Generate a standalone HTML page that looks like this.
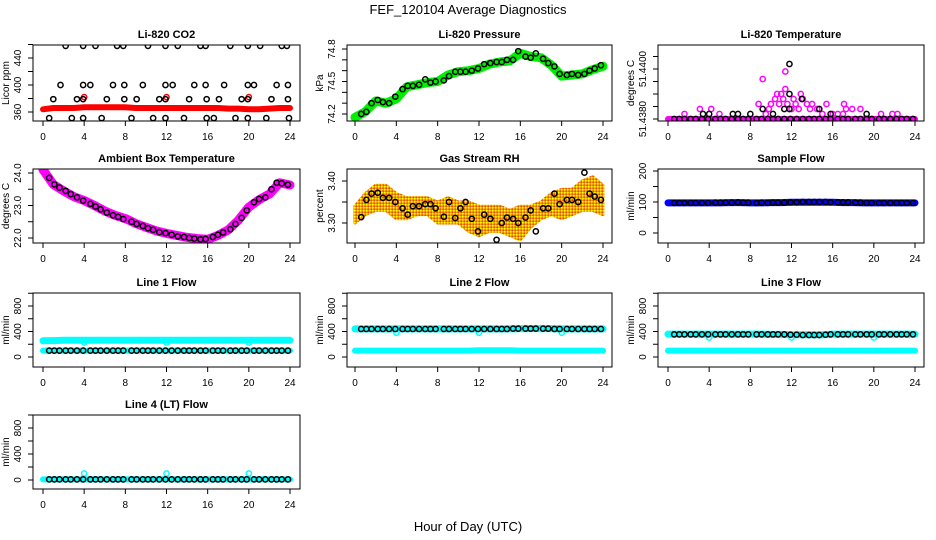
<!DOCTYPE html>
<html><head><meta charset="utf-8"><style>
html,body{margin:0;padding:0;background:#fff;}
svg{display:block;font-family:"Liberation Sans",Arial,sans-serif;}
</style></head><body>
<svg id="chart" width="936" height="540" viewBox="0 0 936 540" xmlns="http://www.w3.org/2000/svg">
<text x="468" y="14" text-anchor="middle" font-size="13">FEF_120104  Average Diagnostics</text>
<text x="468" y="531" text-anchor="middle" font-size="13">Hour of Day (UTC)</text>
</svg>
<script>
// ---- data ----
const xTicks=[0,4,8,12,16,20,24];
const hours=[0.6,1.1,1.6,2.2,2.7,3.3,3.9,4.6,5.1,5.6,6.2,6.8,7.3,7.8,8.6,9.1,9.7,10.2,10.7,11.3,11.9,12.5,13.1,13.7,14.2,14.7,15.3,15.8,16.5,17.0,17.5,18.2,18.7,19.3,19.8,20.5,21.0,21.6,22.2,22.7,23.2,23.8];
const bandHours=[0,1,2,3,4,5,6,7,8,9,10,11,12,13,14,15,16,17,18,19,20,21,22,23,24];
// CO2
const co2Band=[364,366,366,366,367,367,367,367,367,366,366,366,366,366,366,366,366,366,365,365,364,364,365,366,366];
const co2HighX=[2.2,3.9,5.1,7.2,7.8,10.2,11.9,13.1,15.3,15.8,18.2,19.9,21.1,23.2,23.7];
const co2HighY=[458,458,458,458,458,458,458,458,458,458,458,458,458,458,458];
const co2MidX=[1.7,3.9,4.6,6.8,7.9,9.7,11.9,12.6,14.7,15.8,17.6,19.9,20.5,22.7,23.8];
const co2MidY=[400,400,400,400,400,400,400,400,400,400,400,400,400,400,400];
const co2LowX=[1.0,3.3,3.9,6.2,7.9,9.1,11.3,11.9,14.2,15.9,17.1,19.3,19.9,22.2,23.8];
const co2LowY=[379,379,379,379,379,379,379,379,379,379,379,379,379,379,379];
const co2BotX=[0.6,2.8,3.9,5.7,8.6,10.7,11.9,13.7,15.9,16.6,18.7,19.9,21.7,23.9];
const co2BotY=[351,351,351,351,351,351,351,351,351,351,351,351,351,351];
const co2RedX=[4,12,20];
const co2RedY=[382,382,382];
// Pressure
const presBand=[74.17,74.22,74.32,74.30,74.34,74.45,74.47,74.49,74.50,74.56,74.59,74.60,74.62,74.66,74.68,74.69,74.76,74.73,74.72,74.65,74.55,74.56,74.57,74.61,74.64];
const presVals=[74.20,74.22,74.30,74.33,74.31,74.30,74.36,74.43,74.46,74.46,74.47,74.52,74.49,74.50,74.51,74.55,74.59,74.59,74.59,74.60,74.62,74.66,74.67,74.68,74.68,74.70,74.70,74.78,74.73,74.72,74.76,74.71,74.67,74.64,74.57,74.56,74.57,74.56,74.57,74.60,74.62,74.65];
// Li-820 temperature
const tempBase=51.4380;
const tempBlkX=[3.4,4.0,6.3,6.8,8.0,9.2,10.2,11.3,11.8,11.8,11.8,13.0,14.7,15.8,19.3];
const tempBlkY=[51.4382,51.4382,51.4382,51.4382,51.4382,51.4384,51.4382,51.4384,51.4384,51.4390,51.4402,51.4388,51.4384,51.4382,51.4382];
const tempMagX=[1.6,3.1,4.2,5.0,8.8,9.2,9.8,10.4,10.6,11.0,11.2,11.4,11.4,11.6,12.4,12.9,13.1,13.5,14.0,14.5,15.4,16.5,17.1,17.3,17.9,18.7,20.7,21.8,22.3,9.5,10.0,10.8,12.0,12.2,12.7,13.8,15.0,16.0,17.0];
const tempMagY=[51.4382,51.4384,51.4384,51.4382,51.4386,51.4396,51.4384,51.4388,51.4390,51.4390,51.4388,51.4399,51.4392,51.4386,51.4386,51.4390,51.4388,51.4386,51.4386,51.4384,51.4386,51.4382,51.4386,51.4384,51.4384,51.4384,51.4382,51.4382,51.4382,51.4382,51.4386,51.4386,51.4384,51.4388,51.4384,51.4384,51.4382,51.4382,51.4382];
// Ambient box temperature
const ambBand=[24.10,23.65,23.45,23.27,23.15,23.00,22.83,22.70,22.60,22.45,22.33,22.22,22.14,22.08,22.02,21.98,21.96,22.08,22.25,22.55,22.95,23.18,23.35,23.70,23.63];
const ambVals=[23.85,23.65,23.55,23.45,23.35,23.25,23.15,23.05,22.97,22.88,22.78,22.70,22.65,22.58,22.50,22.43,22.37,22.30,22.25,22.18,22.15,22.10,22.05,22.03,22.00,21.98,21.96,21.97,22.03,22.10,22.17,22.27,22.43,22.62,22.85,23.10,23.20,23.25,23.50,23.70,23.68,23.64];
// Gas stream RH
const rhUpper=[3.34,3.37,3.39,3.39,3.37,3.36,3.36,3.36,3.35,3.36,3.35,3.35,3.34,3.34,3.34,3.33,3.34,3.34,3.35,3.37,3.38,3.38,3.40,3.41,3.39];
const rhLower=[3.30,3.32,3.33,3.33,3.31,3.31,3.32,3.32,3.30,3.30,3.30,3.28,3.27,3.28,3.28,3.27,3.26,3.29,3.31,3.32,3.31,3.32,3.33,3.33,3.32];
const rhVals=[3.314,3.355,3.370,3.372,3.360,3.360,3.350,3.335,3.320,3.340,3.340,3.345,3.345,3.335,3.315,3.350,3.312,3.335,3.350,3.310,3.280,3.320,3.310,3.260,3.300,3.313,3.310,3.300,3.313,3.330,3.280,3.335,3.335,3.370,3.345,3.355,3.355,3.350,3.420,3.370,3.363,3.355];
// Flows
const sampleBand=[97,97,97,97,97,97,98,98,97,97,98,98,99,99,99,99,99,98,98,97,97,97,97,97,97];
const sampleVals=[97,97,97,97,97,97,97,98,98,98,98,99,98,98,97,98,97,98,98,98,99,99,100,100,100,100,100,99,99,99,99,98,98,97,97,97,97,97,97,97,97,97];
const line1Upper=[255,258,262,262,262,262,262,262,262,262,262,262,262,262,262,262,262,262,262,262,262,262,262,262,262];
const line1Lower=[100,100,100,100,100,100,100,100,100,100,100,100,100,100,100,100,100,100,100,100,100,100,100,100,100];
const line1Black=[100,100,100,100,100,100,100,100,100,100,100,100,100,100,100,100,100,100,100,100,100,100,100,100,100,100,100,100,100,100,100,100,100,100,100,100,100,100,100,100,100,100];
const line2Upper=[440,440,440,440,440,440,440,440,440,440,440,440,440,440,440,440,445,445,445,445,440,440,440,440,440];
const line2Lower=[100,100,100,100,100,100,100,100,100,100,100,100,105,105,105,105,100,100,100,100,100,100,100,100,100];
const line2Black=[440,440,440,440,440,440,440,440,440,440,440,440,440,440,440,440,440,440,440,440,440,440,440,440,440,440,445,445,445,445,445,445,445,440,440,440,440,440,440,440,440,440];
const line3Upper=[360,360,360,360,360,360,360,360,360,360,355,355,350,350,350,350,360,360,360,360,360,360,360,360,360];
const line3Lower=[100,100,100,100,100,100,100,100,100,100,100,100,100,100,100,100,100,100,100,100,100,100,100,100,100];
const line3Black=[355,355,355,355,355,355,355,355,355,355,355,355,355,355,355,355,355,355,355,355,350,350,345,345,345,345,350,355,355,355,355,355,355,355,355,355,355,355,355,355,355,355];
const line4Band=[10,10,10,10,10,10,10,10,10,10,10,10,10,10,10,10,10,10,10,10,10,10,10,10,10];
const line4Black=[10,10,10,10,10,10,10,10,10,10,10,10,10,10,10,10,10,10,10,10,10,10,10,10,10,10,10,10,10,10,10,10,10,10,10,10,10,10,10,10,10,10];
const dipX=[4,12,20];
const line1Dip=[228,228,228];
const line2Dip=[380,380,380];
const line3Dip=[305,305,305];
const line4Out=[100,100,100];

// ---- drawing ----
const NS="http://www.w3.org/2000/svg";
const svg=document.getElementById('chart');
function mk(tag,attrs,parent){const e=document.createElementNS(NS,tag);for(const k in attrs)e.setAttribute(k,attrs[k]);(parent||svg).appendChild(e);return e;}
const cols=[{l:33,r:300,x0:43,x24:290},{l:347,r:612,x0:355,x24:603},{l:658,r:924,x0:668,x24:915}];
const rows=[{t:45,b:121},{t:169,b:243},{t:293,b:367},{t:415,b:489}];
function panel(name,title,ci,ri,v1,p1,v2,p2,ticks,labels,ytitle){
  const c=cols[ci],r=rows[ri];
  const g=mk('g',{});
  
  
  const P={g,c,r,x:h=>c.x0+(c.x24-c.x0)*h/24,y:v=>p1+(p2-p1)*(v-v1)/(v2-v1)};
  const clip=mk('clipPath',{id:'clip-'+name},g);
  mk('rect',{x:c.l,y:r.t,width:c.r-c.l,height:r.b-r.t},clip);
  P.plot=mk('g',{'clip-path':'url(#clip-'+name+')'},g);
  
  
  const box=mk('rect',{x:c.l,y:r.t,width:c.r-c.l,height:r.b-r.t,fill:'none',stroke:'#000','stroke-width':1},g);
  
  
  const tt=mk('text',{x:(c.l+c.r)/2,y:r.t-7,'text-anchor':'middle','font-size':11,'font-weight':'bold'},g);
  
  
  tt.textContent=title;
  xTicks.forEach(h=>{const X=P.x(h);mk('line',{x1:X,x2:X,y1:r.b,y2:r.b+5,stroke:'#000'},g);
    const t=mk('text',{x:X,y:r.b+19,'text-anchor':'middle','font-size':10},g);
    
    
    t.textContent=h;});
  ticks.forEach(v=>{const Y=P.y(v);mk('line',{x1:c.l-5,x2:c.l,y1:Y,y2:Y,stroke:'#000'},g);});
  labels.forEach(lb=>{const Y=P.y(parseFloat(lb));const bx=c.l-12;
    const t=mk('text',{x:bx,y:Y,'text-anchor':'middle','font-size':10,transform:'rotate(-90 '+bx+' '+Y+')'},g);
    
    
    t.textContent=lb;});
  const ym=(r.t+r.b)/2,tx=c.l-24;
  const yt=mk('text',{x:tx,y:ym,'text-anchor':'middle','font-size':10,transform:'rotate(-90 '+tx+' '+ym+')'},g);
  
  
  yt.textContent=ytitle;
  return P;
}
function band(P,xs,ys,color,w,name){
  const d=xs.map((h,i)=>(i?'L':'M')+P.x(h).toFixed(1)+' '+P.y(ys[i]).toFixed(1)).join(' ');
  const p=mk('path',{d,fill:'none',stroke:color,'stroke-width':w,'stroke-linejoin':'round','stroke-linecap':'round'},P.plot);
  
  
}
function circles(P,xs,ys,color,name,rad,sw){
  xs.forEach((h,i)=>{const c=mk('circle',{cx:P.x(h),cy:P.y(ys[i]),r:rad||2.6,fill:'none',stroke:color,'stroke-width':sw||1.5},P.plot);
    
    });
}
function area(P,xs,up,lo,fill,name){
  let d=xs.map((h,i)=>(i?'L':'M')+P.x(h).toFixed(1)+' '+P.y(up[i]).toFixed(1)).join(' ');
  for(let i=xs.length-1;i>=0;i--)d+=' L'+P.x(xs[i]).toFixed(1)+' '+P.y(lo[i]).toFixed(1);
  const p=mk('path',{d:d+' Z',fill,stroke:fill,'stroke-width':3,'stroke-linejoin':'round'},P.plot);
  
  
}
const defs=mk('defs',{});
const pat=mk('pattern',{id:'rhpat',width:3,height:3,patternUnits:'userSpaceOnUse'},defs);
mk('rect',{width:3,height:3,fill:'#f5a000'},pat);
mk('rect',{width:1.5,height:1.5,fill:'#ffff00'},pat);
mk('rect',{x:1.5,y:1.5,width:1.5,height:1.5,fill:'#e05000'},pat);

// CO2
let P=panel('co2-panel','Li-820 CO2',0,0,360,112,440,58,[360,380,400,420,440,460],['360','400','440'],'Licor ppm');
band(P,bandHours,co2Band,'#ff0000',6,'co2-red-series');
circles(P,co2RedX,co2RedY,'#ff0000','co2-red-outlier');
circles(P,co2HighX,co2HighY,'#000','co2-avg-point');
circles(P,co2MidX,co2MidY,'#000','co2-avg-point');
circles(P,co2LowX,co2LowY,'#000','co2-avg-point');
circles(P,co2BotX,co2BotY,'#000','co2-avg-point');
// Pressure
P=panel('pressure-panel','Li-820 Pressure',1,0,74.2,114,74.8,49,[74.2,74.3,74.4,74.5,74.6,74.7,74.8],['74.2','74.5','74.8'],'kPa');
band(P,bandHours,presBand,'#00ee00',9,'pressure-green-series');
circles(P,hours,presVals,'#000','pressure-avg-point');
// Temperature
P=panel('temperature-panel','Li-820 Temperature',2,0,51.438,119,51.440,69,[51.4380,51.4385,51.4390,51.4395,51.4400,51.4405],['51.4380','51.4400'],'degrees C');
band(P,[0,24],[tempBase,tempBase],'#ff00ff',6,'temperature-magenta-series');
circles(P,tempMagX,tempMagY,'#ff00ff','temperature-magenta-point');
circles(P,hours,hours.map(()=>tempBase),'#000','temperature-avg-point');
circles(P,tempBlkX,tempBlkY,'#000','temperature-avg-point');
// Ambient
P=panel('ambient-panel','Ambient Box Temperature',0,1,22.0,238,24.0,173,[22.0,22.5,23.0,23.5,24.0],['22.0','23.0','24.0'],'degrees C');
band(P,bandHours,ambBand,'#ff00ff',9,'ambient-magenta-series');
circles(P,hours,ambVals,'#000','ambient-avg-point');
// RH
P=panel('rh-panel','Gas Stream RH',1,1,3.30,223,3.40,181,[3.30,3.35,3.40],['3.30','3.40'],'percent');
area(P,bandHours,rhUpper,rhLower,'url(#rhpat)','rh-orange-series');
circles(P,hours,rhVals,'#000','rh-avg-point');
// Sample flow
P=panel('sample-flow-panel','Sample Flow',2,1,0,233,200,171,[0,50,100,150,200],['0','100','200'],'ml/min');
band(P,bandHours,sampleBand,'#0000ff',7,'sample-flow-blue-series');
circles(P,hours,sampleVals,'#000','sample-flow-avg-point');
// Line flows
const flowTicks=[0,200,400,600,800,1000],flowLabels=['0','400','800'];
P=panel('line1-flow-panel','Line 1 Flow',0,2,0,357,800,306,flowTicks,flowLabels,'ml/min');
band(P,bandHours,line1Upper,'#00ffff',7,'line1-cyan-upper');
band(P,bandHours,line1Lower,'#00ffff',6,'line1-cyan-lower');
circles(P,dipX,line1Dip,'#00ffff','line1-cyan-dip');
circles(P,hours,line1Black,'#000','line1-avg-point');
P=panel('line2-flow-panel','Line 2 Flow',1,2,0,357,800,306,flowTicks,flowLabels,'ml/min');
band(P,bandHours,line2Upper,'#00ffff',7,'line2-cyan-upper');
band(P,bandHours,line2Lower,'#00ffff',6,'line2-cyan-lower');
circles(P,dipX,line2Dip,'#00ffff','line2-cyan-dip');
circles(P,hours,line2Black,'#000','line2-avg-point');
P=panel('line3-flow-panel','Line 3 Flow',2,2,0,357,800,306,flowTicks,flowLabels,'ml/min');
band(P,bandHours,line3Upper,'#00ffff',7,'line3-cyan-upper');
band(P,bandHours,line3Lower,'#00ffff',6,'line3-cyan-lower');
circles(P,dipX,line3Dip,'#00ffff','line3-cyan-dip');
circles(P,hours,line3Black,'#000','line3-avg-point');
P=panel('line4-flow-panel','Line 4 (LT) Flow',0,3,0,480,800,428,flowTicks,flowLabels,'ml/min');
band(P,bandHours,line4Band,'#00ffff',6,'line4-cyan-series');
circles(P,dipX,line4Out,'#00ffff','line4-cyan-outlier');
circles(P,hours,line4Black,'#000','line4-avg-point');
</script>
</body></html>
